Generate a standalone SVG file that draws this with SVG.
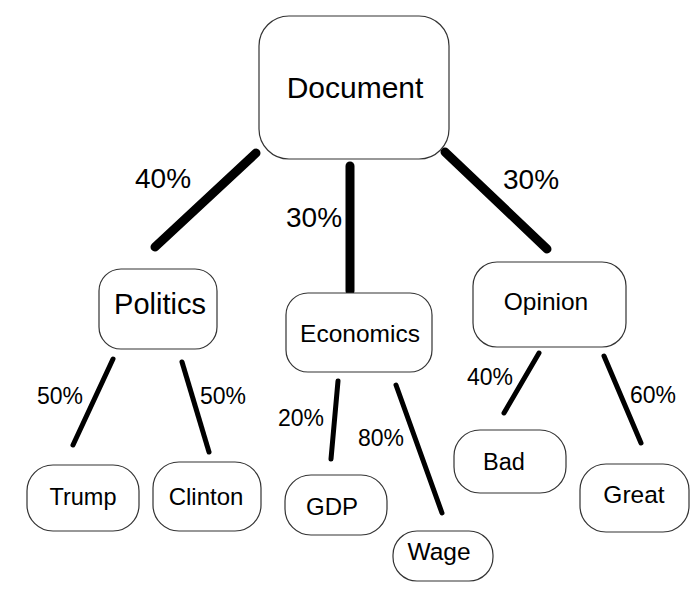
<svg xmlns="http://www.w3.org/2000/svg" width="700" height="600" viewBox="0 0 700 600">
<style>
.box{fill:#fff;stroke:#333;stroke-width:1.2}
.t{font-family:"Liberation Sans",Arial,sans-serif;fill:#000;text-anchor:middle}
.lbl{font-family:"Liberation Sans",Arial,sans-serif;fill:#000}
.thick{stroke:#000;stroke-width:9;stroke-linecap:round;fill:none}
.thin{stroke:#000;stroke-width:5;stroke-linecap:round;fill:none}
</style>
<rect width="700" height="600" fill="#fff"/>
<g id="connectors">
<line class="thick" x1="256" y1="153" x2="155" y2="247"/>
<line class="thick" x1="350" y1="166" x2="350" y2="291"/>
<line class="thick" x1="445" y1="152" x2="547" y2="249"/>
<line class="thin" x1="113" y1="359" x2="73" y2="445"/>
<line class="thin" x1="182" y1="362" x2="209" y2="452"/>
<line class="thin" x1="338" y1="381" x2="331" y2="459"/>
<line class="thin" x1="396" y1="385" x2="442" y2="513"/>
<line class="thin" x1="539" y1="353" x2="504" y2="413"/>
<line class="thin" x1="604" y1="356" x2="641" y2="443"/>
<text class="lbl" x="135" y="188" font-size="28">40%</text>
<text class="lbl" x="286" y="227" font-size="28">30%</text>
<text class="lbl" x="503" y="189" font-size="28">30%</text>
<text class="lbl" x="37" y="404" font-size="23">50%</text>
<text class="lbl" x="200" y="404" font-size="23">50%</text>
<text class="lbl" x="278" y="426" font-size="23">20%</text>
<text class="lbl" x="358" y="446" font-size="23">80%</text>
<text class="lbl" x="467" y="385" font-size="23">40%</text>
<text class="lbl" x="630" y="403" font-size="23">60%</text>
</g>
<g id="document">
<rect class="box" x="259" y="16" width="190" height="143" rx="30"/>
<text class="t" x="355" y="98" font-size="30">Document</text>
</g>
<g id="politics">
<rect class="box" x="99" y="269" width="118" height="80" rx="22"/>
<text class="t" x="160" y="314" font-size="29">Politics</text>
</g>
<g id="economics">
<rect class="box" x="286" y="293" width="146" height="79" rx="22"/>
<text class="t" x="360" y="342" font-size="24.5">Economics</text>
</g>
<g id="opinion">
<rect class="box" x="473" y="262" width="153" height="85" rx="24"/>
<text class="t" x="546" y="310" font-size="24.5">Opinion</text>
</g>
<g id="trump">
<rect class="box" x="27" y="465" width="112" height="66" rx="26"/>
<text class="t" x="83" y="505" font-size="23.5">Trump</text>
</g>
<g id="clinton">
<rect class="box" x="153" y="462" width="108" height="69" rx="26"/>
<text class="t" x="206" y="505" font-size="24">Clinton</text>
</g>
<g id="gdp">
<rect class="box" x="285" y="475" width="102" height="60" rx="26"/>
<text class="t" x="332" y="515" font-size="24">GDP</text>
</g>
<g id="wage">
<rect class="box" x="393" y="531" width="100" height="50" rx="24"/>
<text class="t" x="439" y="560" font-size="24.5">Wage</text>
</g>
<g id="bad">
<rect class="box" x="454" y="430" width="112" height="63" rx="26"/>
<text class="t" x="504" y="470" font-size="23.5">Bad</text>
</g>
<g id="great">
<rect class="box" x="580" y="464" width="109" height="68" rx="26"/>
<text class="t" x="634" y="503" font-size="24.5">Great</text>
</g>
</svg>
